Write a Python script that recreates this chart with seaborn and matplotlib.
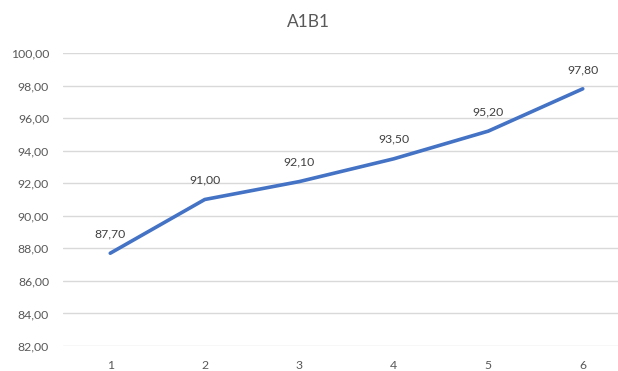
import matplotlib
matplotlib.use("Agg")
import matplotlib.pyplot as plt
import seaborn as sns
import pandas as pd

categories = ["1", "2", "3", "4", "5", "6"]
values = [87.70, 91.00, 92.10, 93.50, 95.20, 97.80]
y_ticks = [82, 84, 86, 88, 90, 92, 94, 96, 98, 100]
title = "A1B1"

sns.set_theme(style="white")
plt.rcParams["font.family"] = ["Lato", "DejaVu Sans"]

df = pd.DataFrame({"x": range(len(categories)), "y": values})

fig = plt.figure(figsize=(6.18, 3.71), dpi=100)
ax = fig.add_axes([63 / 618, 25 / 371, 567 / 618, 293 / 371])

sns.lineplot(data=df, x="x", y="y", ax=ax, color="#4472C4", linewidth=2.6,
             solid_capstyle="round", solid_joinstyle="round")

ax.set_xlim(-0.5, len(categories) - 0.5)
ax.set_ylim(82, 100)
ax.set_yticks(y_ticks)
ax.set_yticklabels([f"{v:.2f}".replace(".", ",") for v in y_ticks])
ax.set_xticks(range(len(categories)))
ax.set_xticklabels(categories)
ax.yaxis.grid(True, color="#d9d9d9", linewidth=1)
ax.xaxis.grid(False)
for s in ax.spines.values():
    s.set_visible(False)
ax.tick_params(axis="both", length=0, labelsize=8.8, labelcolor="#595959")
ax.tick_params(axis="y", pad=10)
ax.tick_params(axis="x", pad=10)
ax.set_xlabel("")
ax.set_ylabel("")

for i, v in enumerate(values):
    ax.annotate(f"{v:.2f}".replace(".", ","), (i, v), xytext=(0, 10),
                textcoords="offset points", ha="center", va="bottom",
                fontsize=8.8, color="#404040")

fig.text(308 / 618, 1 - 22 / 371, title, ha="center", va="center",
         fontsize=12.5, color="#595959")

fig.savefig("out.png", dpi=100, facecolor="white")
